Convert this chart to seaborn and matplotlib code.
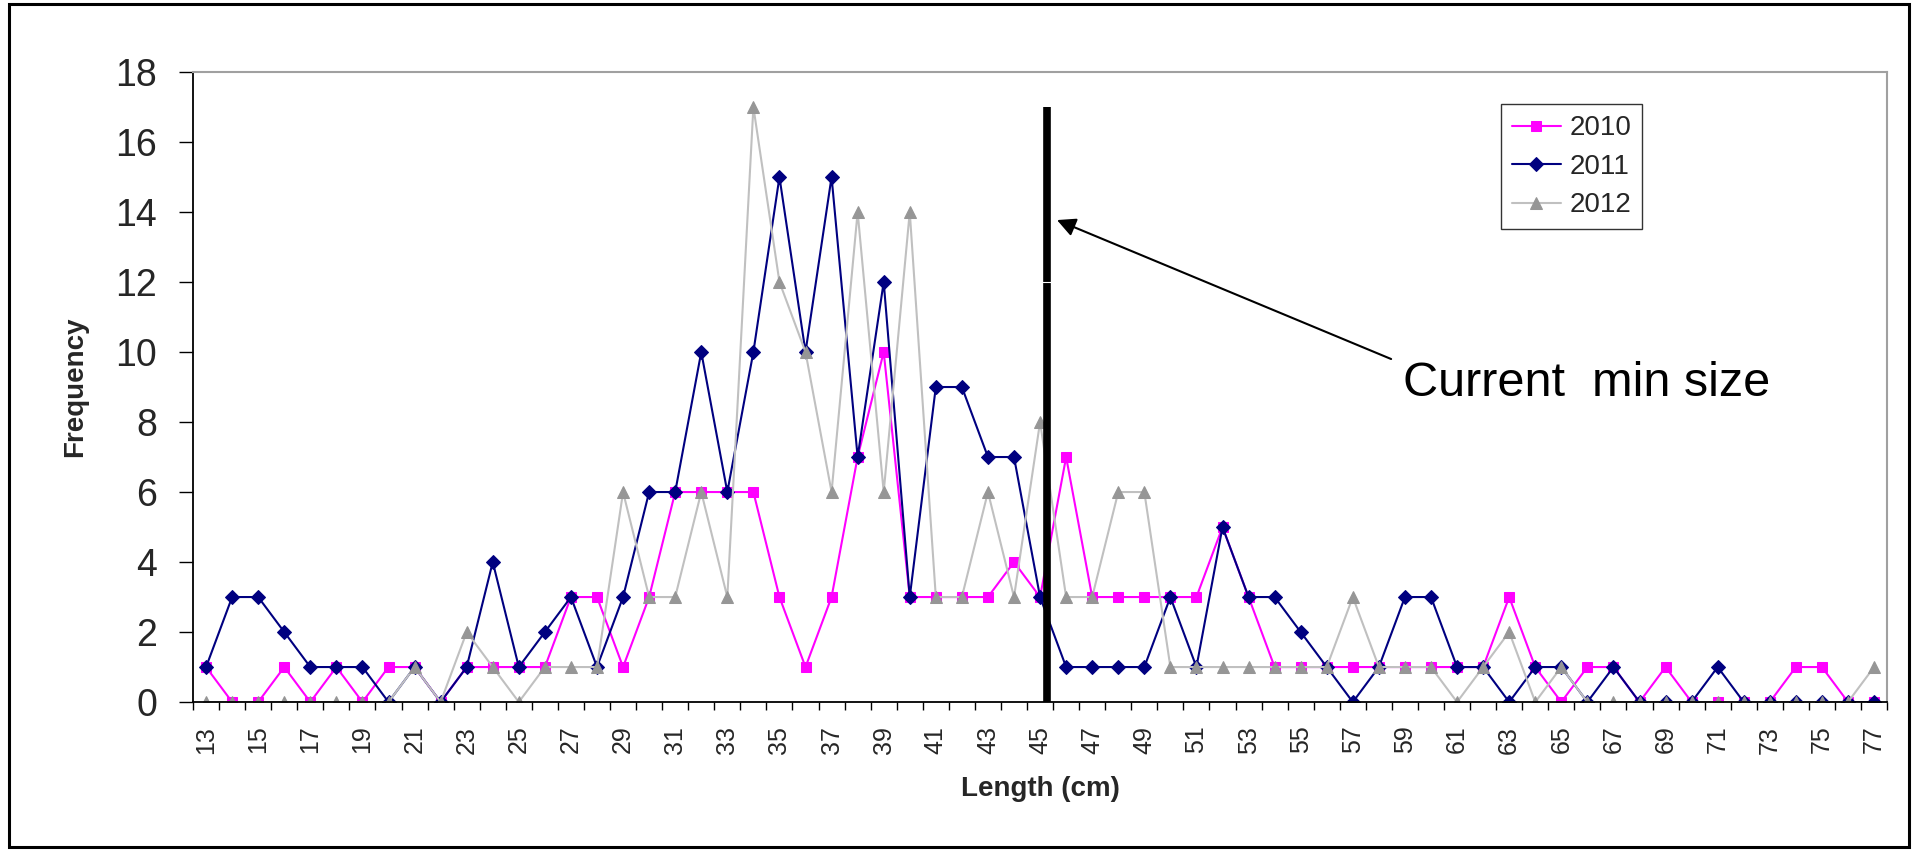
import matplotlib
matplotlib.use("Agg")
import matplotlib.pyplot as plt
import matplotlib.patches as mpatches
import numpy as np
import pandas as pd
import seaborn as sns

# Length-frequency counts by year
lengths = list(range(13, 78))
freq_2010 = [1, 0, 0, 1, 0, 1, 0, 1, 1, 0, 1, 1, 1, 1, 3, 3, 1,
             3, 6, 6, 6, 6, 3, 1, 3, 7, 10, 3, 3, 3, 3, 4, 3,
             7, 3, 3, 3, 3, 3, 5, 3, 1, 1, 1, 1, 1, 1, 1, 1,
             1, 3, 1, 0, 1, 1, 0, 1, 0, 0, 0, 0, 1, 1, 0, 0]
freq_2011 = [1, 3, 3, 2, 1, 1, 1, 0, 1, 0, 1, 4, 1, 2, 3, 1, 3,
             6, 6, 10, 6, 10, 15, 10, 15, 7, 12, 3, 9, 9, 7, 7, 3,
             1, 1, 1, 1, 3, 1, 5, 3, 3, 2, 1, 0, 1, 3, 3, 1,
             1, 0, 1, 1, 0, 1, 0, 0, 0, 1, 0, 0, 0, 0, 0, 0]
freq_2012 = [0, 0, 0, 0, 0, 0, 0, 0, 1, 0, 2, 1, 0, 1, 1, 1, 6,
             3, 3, 6, 3, 17, 12, 10, 6, 14, 6, 14, 3, 3, 6, 3, 8,
             3, 3, 6, 6, 1, 1, 1, 1, 1, 1, 1, 3, 1, 1, 1, 0,
             1, 2, 0, 1, 0, 0, 0, 0, 0, 0, 0, 0, 0, 0, 0, 1]
years = ["2010", "2011", "2012"]
y_ticks = list(range(0, 19, 2))
x_label_values = list(range(13, 78, 2))

min_size_x = 45.26      # position of the minimum landing size bar
min_size_top = 17

sns.set_style("white")
plt.rcParams["font.family"] = ["Liberation Sans", "DejaVu Sans"]

fig = plt.figure(figsize=(19.17, 8.52), dpi=100)
ax = fig.add_axes([0.1007, 0.176, 0.8837, 0.7395])

styles = {
    "2010": dict(color="#FF00FF", marker="s", markersize=7.5,
                 markerfacecolor="#FF00FF", markeredgecolor="#FF00FF"),
    "2011": dict(color="#000080", marker="D", markersize=7.5,
                 markerfacecolor="#000080", markeredgecolor="#000080"),
    "2012": dict(color="#C0C0C0", marker="^", markersize=9,
                 markerfacecolor="#969696", markeredgecolor="#969696"),
}
series = {"2010": freq_2010, "2011": freq_2011, "2012": freq_2012}

for yr in years:
    df = pd.DataFrame({"Length": lengths, "Frequency": series[yr]})
    sns.lineplot(data=df, x="Length", y="Frequency", ax=ax, label=yr,
                 linewidth=1.5, sort=False, **styles[yr])

# Axes range and ticks
ax.set_xlim(12.5, 77.5)
ax.set_ylim(0, 18)
ax.set_yticks(y_ticks)
ax.set_yticklabels([str(v) for v in y_ticks])
ax.tick_params(axis="y", which="major", direction="out", length=10, width=1,
               color="black", labelsize=27, pad=16, left=True)

ax.set_xticks(np.arange(12.5, 78, 1.0))
ax.set_xticklabels([])
ax.tick_params(axis="x", which="major", direction="out", length=6, width=1,
               color="black", bottom=True)
ax.set_xticks(x_label_values, minor=True)
ax.set_xticklabels([str(v) for v in x_label_values], minor=True, rotation=90)
ax.tick_params(axis="x", which="minor", length=0, labelsize=18, pad=17)

for side in ["left", "bottom"]:
    ax.spines[side].set_color("black")
    ax.spines[side].set_linewidth(1.3)
for side in ["top", "right"]:
    ax.spines[side].set_color("#A0A0A0")
    ax.spines[side].set_linewidth(1.5)
ax.grid(False)

ax.set_xlabel("Length (cm)", fontsize=20, fontweight="bold")
ax.set_ylabel("Frequency", fontsize=20, fontweight="bold")
ax.xaxis.set_label_coords(0.5, -0.138)
ax.xaxis.label.set_va("center")
ax.yaxis.set_label_coords(-0.0695, 0.5)
ax.yaxis.label.set_va("center")

# Minimum size bar with annotation
ax.plot([min_size_x, min_size_x], [0, min_size_top], color="black",
        linewidth=5.5, solid_capstyle="butt", zorder=5)
ax.plot([min_size_x - 0.25, min_size_x + 0.25], [12.0, 12.0], color="white",
        linewidth=0.8, zorder=6)
ax.annotate("", xy=(45.65, 13.77), xytext=(58.47, 9.8),
            arrowprops=dict(arrowstyle="-|>", color="black", lw=1.5,
                            mutation_scale=28, shrinkA=0, shrinkB=0),
            zorder=7)
ax.text(58.93, 9.1, "Current  min size", fontsize=35, ha="left",
        va="center", color="black")

leg = ax.legend(loc="upper left", bbox_to_anchor=(0.772, 0.949),
                borderaxespad=0, fontsize=20, frameon=True, fancybox=False,
                handlelength=1.76, labelspacing=0.45, borderpad=0.4,
                handletextpad=0.3)
leg.get_frame().set_edgecolor("black")
leg.get_frame().set_linewidth(1.0)

# Outer frame around the whole chart
fig.patches.append(mpatches.Rectangle((9 / 1917, 5 / 852), 1900 / 1917, 843 / 852,
                                      transform=fig.transFigure, fill=False,
                                      edgecolor="black", linewidth=2.2))

fig.savefig("out.png", dpi=100)
